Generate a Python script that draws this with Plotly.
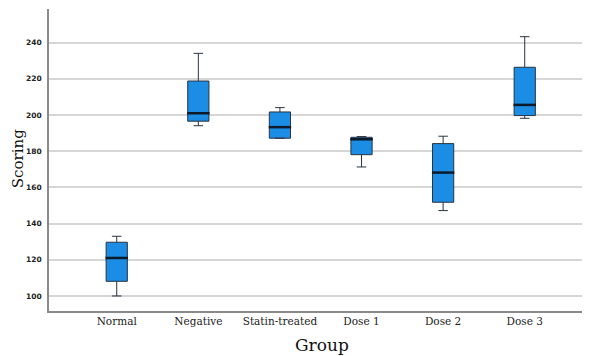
import plotly.graph_objects as go

groups = ["Normal", "Negative", "Statin-treated", "Dose 1", "Dose 2", "Dose 3"]
lower_whisker = [100.0, 194.1, 187.2, 171.3, 147.2, 198.2]
q1 = [108.1, 196.6, 187.2, 178.1, 151.8, 199.7]
median = [121.0, 201.0, 193.3, 186.6, 168.2, 205.6]
q3 = [129.7, 218.8, 201.7, 187.7, 184.2, 226.4]
upper_whisker = [133.0, 234.1, 204.1, 188.1, 188.3, 243.3]
y_ticks = [100, 120, 140, 160, 180, 200, 220, 240]

fig = go.Figure()
fig.add_trace(go.Box(
    x=groups, q1=q1, median=median, q3=q3,
    lowerfence=lower_whisker, upperfence=upper_whisker,
    fillcolor="#1b8de4", line=dict(color="#2a3340", width=1),
    width=0.26, whiskerwidth=0.45, boxpoints=False, showlegend=False,
    hoverinfo="skip",
))
fig.add_trace(go.Scatter(
    x=groups, y=median, mode="markers",
    marker=dict(symbol="line-ew", size=16, line=dict(color="#0d1a2a", width=2.5)),
    showlegend=False, hoverinfo="skip",
))

fig.update_layout(
    width=582, height=348,
    margin=dict(l=41, r=0, t=1, b=45),
    plot_bgcolor="white", paper_bgcolor="white",
    xaxis=dict(
        range=[-0.83, 5.8], showgrid=False, showline=True, linecolor="#8a8a8a", linewidth=1.5,
        tickfont=dict(family="DejaVu Serif", size=10.5, color="#222"),
        ticks="", zeroline=False, automargin=False,
    ),
    yaxis=dict(
        range=[91.7, 258.6], tickvals=y_ticks, showgrid=True, gridcolor="#d6d6d6", gridwidth=1.5,
        showline=True, linecolor="#8a8a8a", linewidth=1.5, zeroline=False,
        tickfont=dict(family="DejaVu Sans", size=7.5, color="#222", weight="bold"),
        ticklabelstandoff=4, automargin=False,
    ),
    annotations=[
        dict(text="Group", xref="paper", yref="paper", x=0.505, y=-0.072, yanchor="top",
             xanchor="center", showarrow=False,
             font=dict(family="DejaVu Serif", size=17, color="#111")),
        dict(text="Scoring", xref="paper", yref="paper", x=-0.056, y=0.505, textangle=-90,
             xanchor="center", yanchor="middle", showarrow=False, borderpad=0,
             font=dict(family="DejaVu Serif", size=15, color="#111")),
    ],
)
fig.write_html("out.html")
